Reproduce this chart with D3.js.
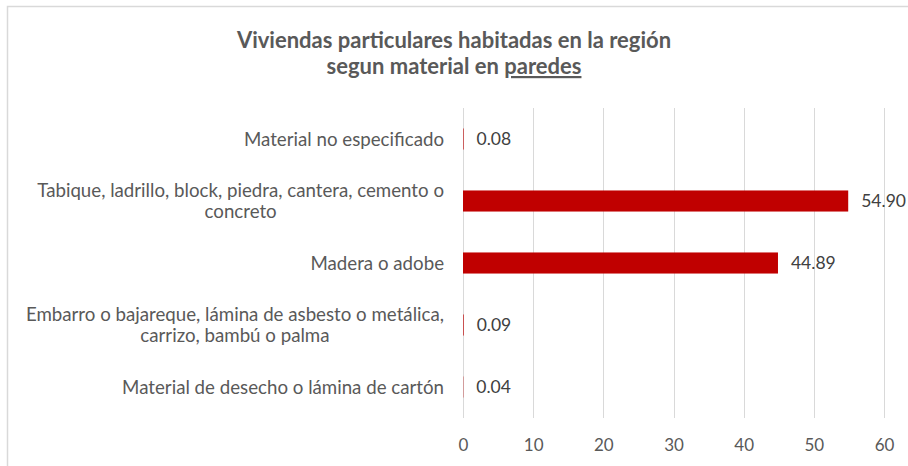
<!DOCTYPE html>
<html>
<head>
<meta charset="utf-8">
<script src="https://cdn.jsdelivr.net/npm/d3@7"></script>
<style>
  body { margin: 0; background: #fff; }
  svg text { font-family: Lato, "Open Sans", sans-serif; }
</style>
</head>
<body>
<div id="chart"></div>
<script>
// categories listed top to bottom
const categories = [
  'Material no especificado',
  'Tabique, ladrillo, block, piedra, cantera, cemento o concreto',
  'Madera o adobe',
  'Embarro o bajareque, lámina de asbesto o metálica, carrizo, bambú o palma',
  'Material de desecho o lámina de cartón'
];
// wrapped label lines as shown in the chart
const labelLines = [
  ['Material no especificado'],
  ['Tabique, ladrillo, block, piedra, cantera, cemento o', 'concreto'],
  ['Madera o adobe'],
  ['Embarro o bajareque, lámina de asbesto o metálica,', 'carrizo, bambú o palma'],
  ['Material de desecho o lámina de cartón']
];
const values = [0.08, 54.90, 44.89, 0.09, 0.04];
const xTicks = [0, 10, 20, 30, 40, 50, 60];
const titleLines = ['Viviendas particulares habitadas en la región', 'segun material en '];
const titleUnderlined = 'paredes';

const width = 908, height = 466;
const margin = { top: 108, right: 24, bottom: 48, left: 463 };

const svg = d3.select('#chart').append('svg')
  .attr('width', width)
  .attr('height', height);

// chart frame
svg.append('rect')
  .attr('x', 7.5).attr('y', 6.5)
  .attr('width', width + 10).attr('height', height + 10)
  .attr('fill', '#fff')
  .attr('stroke', '#d9d9d9')
  .attr('stroke-width', 1.5);

const x = d3.scaleLinear()
  .domain([0, 60])
  .range([margin.left, width - margin.right]);

const y = d3.scaleBand()
  .domain(categories)
  .range([margin.top, height - margin.bottom])
  .paddingInner(0.66)
  .paddingOuter(0.33);

// gridlines
svg.append('g')
  .selectAll('line')
  .data(xTicks)
  .enter()
  .append('line')
  .attr('x1', d => Math.round(x(d)) + 0.5)
  .attr('x2', d => Math.round(x(d)) + 0.5)
  .attr('y1', margin.top)
  .attr('y2', height - margin.bottom)
  .attr('stroke', '#d9d9d9')
  .attr('stroke-width', 1);

// x axis labels
const xAxis = d3.axisBottom(x).tickValues(xTicks).tickSize(0).tickPadding(0);
const gx = svg.append('g')
  .attr('transform', `translate(0,${height - margin.bottom + 21})`)
  .call(xAxis);
gx.select('.domain').remove();
gx.selectAll('text')
  .attr('fill', '#595959')
  .style('font-size', '17px')
  .attr('dy', '0.71em');

// bars
svg.append('g')
  .selectAll('rect')
  .data(values)
  .enter()
  .append('rect')
  .attr('x', x(0))
  .attr('y', (d, i) => y(categories[i]))
  .attr('width', d => x(d) - x(0))
  .attr('height', y.bandwidth())
  .attr('fill', '#c00000');

// value labels
svg.append('g')
  .selectAll('text')
  .data(values)
  .enter()
  .append('text')
  .attr('x', d => x(d) + 13)
  .attr('y', (d, i) => y(categories[i]) + y.bandwidth() / 2)
  .attr('dy', '0.35em')
  .attr('fill', '#404040')
  .style('font-size', '17.5px')
  .text(d => d.toFixed(2));

// category labels: centered lines, block right-aligned to the axis
const lineH = 21;
const labelG = svg.append('g');
labelLines.forEach((lines, i) => {
  const cy = y(categories[i]) + y.bandwidth() / 2;
  const g = labelG.append('g');
  const texts = g.selectAll('text')
    .data(lines)
    .enter()
    .append('text')
    .attr('y', (d, j) => cy + (j - (lines.length - 1) / 2) * lineH)
    .attr('dy', '0.35em')
    .attr('fill', '#595959')
    .style('font-size', '18.7px')
    .attr('text-anchor', 'middle')
    .text(d => d);
  let maxW = 0;
  texts.each(function() { maxW = Math.max(maxW, this.getComputedTextLength()); });
  const cx = x(0) - 19 - maxW / 2;
  texts.attr('x', cx);
});

// title
const title = svg.append('text')
  .attr('x', width / 2)
  .attr('text-anchor', 'middle')
  .attr('fill', '#595959')
  .style('font-size', '22px')
  .style('font-weight', 'bold');
title.append('tspan')
  .attr('x', width / 2)
  .attr('y', 48)
  .text(titleLines[0]);
title.append('tspan')
  .attr('x', width / 2)
  .attr('y', 74)
  .text(titleLines[1])
  .append('tspan')
  .style('text-decoration', 'underline')
  .text(titleUnderlined);
</script>
</body>
</html>
